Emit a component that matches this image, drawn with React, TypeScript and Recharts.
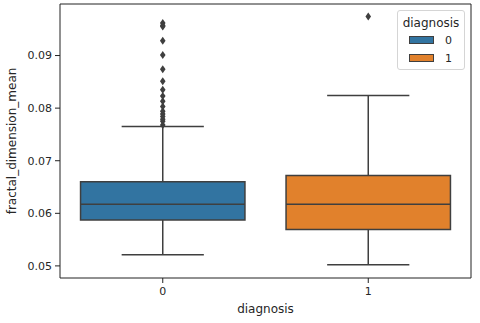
import React from 'react';
import {
    ScatterChart,
    Scatter,
    XAxis,
    YAxis,
    ReferenceArea,
    ReferenceLine,
    Legend
} from 'recharts';

// diagnosis groups and their box statistics
const categories = ['0', '1'];
const boxColors = ['#3274a1', '#e1812c'];
const lowerWhisker = [0.0521, 0.0502];
const q1 = [0.05875, 0.0569];
const median = [0.0617, 0.0617];
const q3 = [0.066, 0.0672];
const upperWhisker = [0.0765, 0.0824];

// fliers
const outliers0 = [0.0962, 0.0957, 0.0955, 0.0928, 0.0901, 0.0874, 0.0851, 0.0835, 0.0823, 0.0813, 0.0803, 0.0794, 0.0789, 0.0784, 0.0779, 0.0775, 0.0768];
const outliers1 = [0.0974];

const yTicks = [0.05, 0.06, 0.07, 0.08, 0.09];
const yDomain = [0.0477, 0.0998];
const xDomain = [-0.5, 1.5];

const LINE = '#3f3f3f';
const FONT = 'DejaVu Sans';
const BOX_HALF = 0.4;
const CAP_HALF = 0.2;

const flierData = [
    outliers0.map((v) => ({ x: 0, y: v })),
    outliers1.map((v) => ({ x: 1, y: v }))
];

const Diamond = (p: any) => (
    <path
        d={`M${p.cx},${p.cy - 4}L${p.cx + 2.8},${p.cy}L${p.cx},${p.cy + 4}L${p.cx - 2.8},${p.cy}Z`}
        fill={LINE}
    />
);

const renderLegend = () => (
    <div
        style={{
            boxSizing: 'border-box',
            width: 68,
            height: 60,
            border: '1px solid #d5d5d5',
            borderRadius: 3,
            background: 'rgba(255,255,255,0.8)',
            fontFamily: FONT,
            color: '#262626'
        }}
    >
        <div style={{ marginTop: 4, height: 16, lineHeight: '16px', fontSize: 12, textAlign: 'center' }}>diagnosis</div>
        {categories.map((c, i) => (
            <div key={c} style={{ height: 18, display: 'flex', alignItems: 'center', paddingLeft: 11 }}>
                <span
                    style={{
                        display: 'inline-block',
                        boxSizing: 'border-box',
                        width: 25,
                        height: 8,
                        background: boxColors[i],
                        border: `1px solid ${LINE}`
                    }}
                />
                <span style={{ marginLeft: 11, fontSize: 11 }}>{c}</span>
            </div>
        ))}
    </div>
);

export default function App() {
    return (
        <div style={{ position: 'absolute', left: 0, top: 0, background: '#fff' }}>
            <ScatterChart width={480} height={323} margin={{ top: 4, right: 9, bottom: 5, left: 0 }}>
                <XAxis
                    type="number"
                    dataKey="x"
                    domain={xDomain}
                    ticks={[0, 1]}
                    tickFormatter={(v: number) => categories[v]}
                    height={40}
                    tickSize={5}
                    tickMargin={4}
                    stroke="#222"
                    tick={{ fontSize: 11, fill: '#262626', fontFamily: FONT }}
                    label={{ value: 'diagnosis', position: 'insideBottom', offset: 5, fontSize: 12, fill: '#262626', fontFamily: FONT }}
                />
                <YAxis
                    type="number"
                    dataKey="y"
                    domain={yDomain}
                    ticks={yTicks}
                    tickFormatter={(v: number) => v.toFixed(2)}
                    width={60}
                    tickSize={5}
                    tickMargin={3}
                    stroke="#222"
                    tick={{ fontSize: 11, fill: '#262626', fontFamily: FONT }}
                    label={{
                        value: 'fractal_dimension_mean',
                        angle: -90,
                        position: 'insideLeft',
                        offset: 12,
                        fontSize: 12,
                        fill: '#262626',
                        fontFamily: FONT,
                        style: { textAnchor: 'middle' }
                    }}
                />
                {/* top and right spines */}
                <ReferenceLine y={yDomain[1]} stroke="#222" />
                <ReferenceLine x={xDomain[1]} stroke="#222" />

                {categories.flatMap((c, i) => [
                    <ReferenceLine key={`lw${c}`} segment={[{ x: i, y: lowerWhisker[i] }, { x: i, y: q1[i] }]} stroke={LINE} strokeWidth={1.5} />,
                    <ReferenceLine key={`uw${c}`} segment={[{ x: i, y: q3[i] }, { x: i, y: upperWhisker[i] }]} stroke={LINE} strokeWidth={1.5} />,
                    <ReferenceLine key={`lc${c}`} segment={[{ x: i - CAP_HALF, y: lowerWhisker[i] }, { x: i + CAP_HALF, y: lowerWhisker[i] }]} stroke={LINE} strokeWidth={1.5} />,
                    <ReferenceLine key={`uc${c}`} segment={[{ x: i - CAP_HALF, y: upperWhisker[i] }, { x: i + CAP_HALF, y: upperWhisker[i] }]} stroke={LINE} strokeWidth={1.5} />,
                    <ReferenceArea
                        key={`box${c}`}
                        x1={i - BOX_HALF}
                        x2={i + BOX_HALF}
                        y1={q1[i]}
                        y2={q3[i]}
                        fill={boxColors[i]}
                        fillOpacity={1}
                        stroke={LINE}
                        strokeWidth={1.5}
                    />,
                    <ReferenceLine key={`med${c}`} segment={[{ x: i - BOX_HALF, y: median[i] }, { x: i + BOX_HALF, y: median[i] }]} stroke={LINE} strokeWidth={1.5} />
                ])}

                {flierData.map((d, i) => (
                    <Scatter key={i} data={d} shape={Diamond} isAnimationActive={false} />
                ))}

                <Legend
                    content={renderLegend}
                    layout="vertical"
                    align="center"
                    verticalAlign="middle"
                    wrapperStyle={{ position: 'absolute', left: 397, top: 10, width: 68, height: 60 }}
                />
            </ScatterChart>
        </div>
    );
}
